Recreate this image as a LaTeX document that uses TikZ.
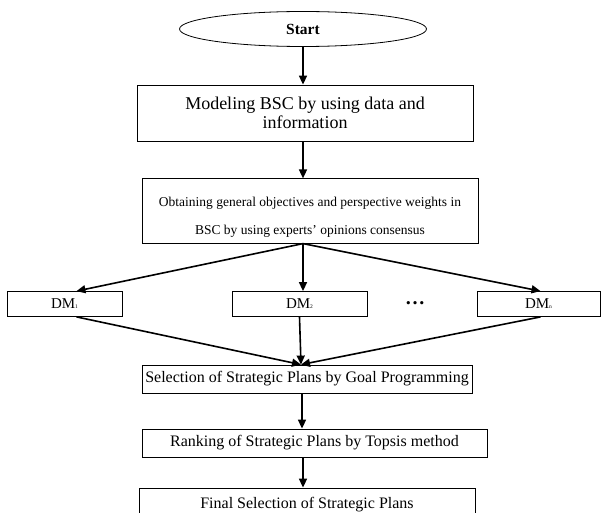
\documentclass[tikz,border=0pt]{standalone}
\usepackage{fontspec}
\setmainfont{Liberation Serif}
\usepackage{tikz}
\usetikzlibrary{arrows.meta, positioning, shapes.geometric}

\newcommand{\dmidx}[1]{{\fontsize{5.5}{5.5}\selectfont\raisebox{0.35ex}{#1}}}

\begin{document}
\begin{tikzpicture}[
        x=1pt, y=-1pt,
        box/.style={rectangle, draw=black, line width=0.8pt, align=center, inner sep=0pt, fill=white},
        dmbox/.style={box, minimum height=25pt, font=\fontsize{15}{17}\selectfont},
        arrow/.style={-{Triangle[length=9pt, width=8pt]}, line width=1.6pt}
    ]
        \useasboundingbox (0,0) rectangle (608,513);
        \clip (0,0) rectangle (608,513);

        \node[ellipse, draw=black, line width=0.8pt, minimum width=247pt, minimum height=35pt,
              font=\fontsize{15.5}{17}\selectfont\bfseries] (start) at (303,29) {Start};
        \node[box, minimum width=336pt, minimum height=56pt, font=\fontsize{18}{19.5}\selectfont]
              (model) at (305,113) {Modeling BSC by using data and\\information};
        \node[box, minimum width=336pt, minimum height=64pt, font=\fontsize{13.5}{28}\selectfont]
              (obtain) at (310,211) {\begin{tabular}{@{}c@{}}\rule{0pt}{28pt}Obtaining general objectives and perspective weights in\\BSC by using experts' opinions consensus\end{tabular}};

        \node[dmbox, minimum width=115pt] (dm1) at (64.5,304) {DM\dmidx{1}};
        \node[dmbox, minimum width=135pt] (dm2) at (299.5,304) {DM\dmidx{2}};
        \node[font=\fontsize{20}{20}\selectfont\bfseries] (dots) at (415,303) {…};
        \node[dmbox, minimum width=123pt] (dmn) at (538.5,304) {DM\dmidx{n}};

        \node[box, minimum width=330pt, minimum height=28pt, font=\fontsize{16}{18}\selectfont]
              (select) at (307,379) {Selection of Strategic Plans by Goal Programming};
        \node[box, minimum width=345pt, minimum height=28pt, font=\fontsize{16}{18}\selectfont]
              (rank) at (314.5,443) {Ranking of Strategic Plans by Topsis method};
        \node[box, minimum width=336pt, minimum height=40pt, font=\fontsize{16}{18}\selectfont]
              (final) at (307,508) {\raisebox{10pt}{Final Selection of Strategic Plans}};

        \coordinate (fork) at (obtain.south -| start.south);
        \coordinate (join) at ([xshift=-6pt]select.north);

        \draw[arrow] (start.south) -- (start.south |- model.north);
        \draw[arrow] (model.south -| start.south) -- (start.south |- obtain.north);
        \draw[arrow] (fork) -- ([xshift=12pt]dm1.north);
        \draw[arrow] (fork) -- (fork |- dm2.north);
        \draw[arrow] (fork) -- ([xshift=2pt]dmn.north);
        \draw[arrow] ([xshift=12pt]dm1.south) -- (join);
        \draw[arrow] (dm2.south) -- (join);
        \draw[arrow] ([xshift=2pt]dmn.south) -- (join);
        \draw[arrow] ([xshift=-5pt]select.south) -- ([xshift=-5pt]select.south |- rank.north);
        \draw[arrow] ([xshift=-4pt]rank.south -| select.south) -- ([xshift=-4pt]select.south |- final.north);
    \end{tikzpicture}
\end{document}
